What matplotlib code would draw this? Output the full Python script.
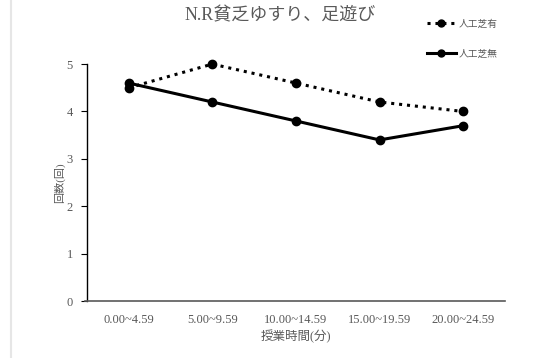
import matplotlib.pyplot as plt
from matplotlib.lines import Line2D

categories = ["0.00~4.59", "5.00~9.59", "10.00~14.59", "15.00~19.59", "20.00~24.59"]
with_turf = [4.5, 5.0, 4.6, 4.2, 4.0]
without_turf = [4.6, 4.2, 3.8, 3.4, 3.7]
series_names = ["人工芝有", "人工芝無"]
yticks = [0, 1, 2, 3, 4, 5]

fonts = ["Liberation Serif", "Noto Sans CJK JP"]
plt.rcParams["font.family"] = fonts
grey = "#595959"
dots = (0, (1, 1.6))

fig = plt.figure(figsize=(5.43, 3.58), dpi=100)
ax = fig.add_axes([0.160, 0.159, 0.770, 0.662])

x = list(range(len(categories)))
ax.plot(x, with_turf, color="black", linestyle=dots, linewidth=2.2,
        marker="o", markersize=6, label=series_names[0], clip_on=False)
ax.plot(x, without_turf, color="black", linestyle="-", linewidth=2.2,
        marker="o", markersize=6, label=series_names[1], clip_on=False)

ax.set_xlim(-0.5, 4.5)
ax.set_ylim(0, 5)
ax.set_xticks(x)
ax.set_xticklabels(categories)
ax.set_yticks(yticks)
ax.tick_params(axis="x", length=0, pad=9, labelsize=9, labelcolor=grey)
ax.tick_params(axis="y", length=4, width=0.8, direction="out", pad=6,
               labelsize=9, labelcolor=grey)

for s in ["top", "right"]:
    ax.spines[s].set_visible(False)
ax.spines["left"].set_color("black")
ax.spines["left"].set_linewidth(1.0)
ax.spines["bottom"].set_color("#595959")
ax.spines["bottom"].set_linewidth(1.2)
ax.spines["bottom"].set_bounds(-0.52, 4.5)

ax.set_xlabel("授業時間(分)", fontsize=9, color=grey, labelpad=3)
ax.set_ylabel("回数(回)", fontsize=8, color=grey, labelpad=1)

fig.text(0.516, 0.957, "N.R貧乏ゆすり、足遊び", ha="center", va="center",
         fontsize=13, color=grey)

handles = [
    Line2D([], [], color="black", linestyle=dots, linewidth=2.2, marker="o", markersize=5),
    Line2D([], [], color="black", linestyle="-", linewidth=2.2, marker="o", markersize=5),
]
fig.legend(handles, series_names, loc="upper left", bbox_to_anchor=(0.77, 0.97),
           frameon=False, fontsize=7, labelcolor=grey, handlelength=3.0,
           handletextpad=0.3, labelspacing=2.1)

# thin grey frame line on the left edge
fig.add_artist(Line2D([11 / 543, 11 / 543], [0, 1], color="#e6e6e6", linewidth=1.5,
                      transform=fig.transFigure))

fig.savefig("out.png", dpi=100)
